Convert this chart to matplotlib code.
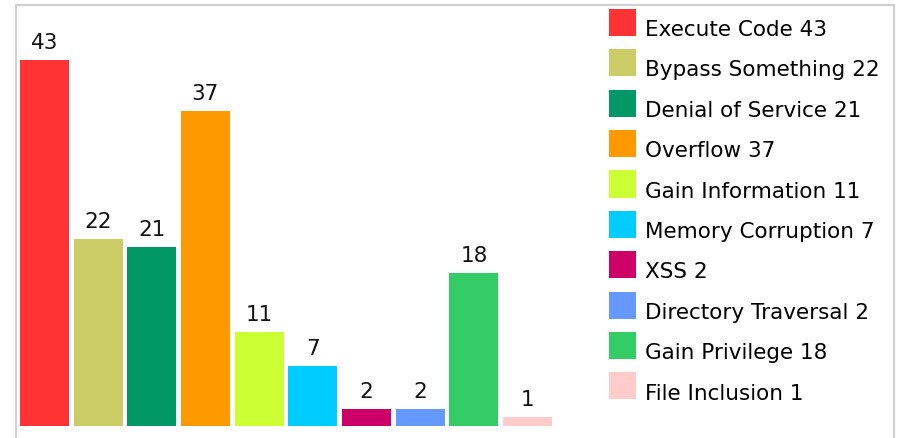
import matplotlib
matplotlib.use("Agg")
import matplotlib.pyplot as plt
from matplotlib.patches import Patch, Rectangle
from matplotlib.legend_handler import HandlerPatch

# Vulnerability counts by category
categories = ["Execute Code", "Bypass Something", "Denial of Service", "Overflow",
              "Gain Information", "Memory Corruption", "XSS", "Directory Traversal",
              "Gain Privilege", "File Inclusion"]
counts = [43, 22, 21, 37, 11, 7, 2, 2, 18, 1]
colors = ["#ff3333", "#cccc66", "#009966", "#ff9900", "#ccff33",
          "#00ccff", "#cc0066", "#6699ff", "#33cc66", "#ffcccc"]

W, H = 906, 439
fig = plt.figure(figsize=(W / 100, H / 100), dpi=100)

# plot area in pixel terms: baseline at y=426.5, 8.5 px per unit
left, right = 17.6, 554.4
base, top = 426.5, 6.0
ax = fig.add_axes([left / W, (H - base) / H, (right - left) / W, (base - top) / H])
x = list(range(len(counts)))
ax.bar(x, counts, width=0.91, color=colors)
ax.set_xlim(-0.5, len(counts) - 0.5)
ax.set_ylim(0, (base - top) / 8.5)
ax.axis("off")

for xi, v in zip(x, counts):
    ax.annotate(str(v), (xi, v), xytext=(0, 8.6), textcoords="offset points",
                ha="center", va="baseline", fontsize=15.5, color="#111111")

# outer frame (open at the bottom)
fig.add_artist(Rectangle((16 / W, -0.1), (894 - 16) / W, 1.1 - 6 / H,
                         transform=fig.transFigure, fill=False,
                         edgecolor="#d0d0d0", linewidth=1.6))


# square swatches, nudged up so the label sits near the swatch bottom
def swatch(legend, orig_handle, xdescent, ydescent, width, height, fontsize):
    return Rectangle((-xdescent, -ydescent + 4.0), width, height)


handles = [Patch(facecolor=c, edgecolor="none") for c in colors]
labels = [f"{c} {v}" for c, v in zip(categories, counts)]
fs = 15.5
fig.legend(handles, labels, loc="upper left",
           bbox_to_anchor=(609 / W, 1 - 15.5 / H), frameon=False,
           fontsize=fs, handlelength=1.256, handleheight=1.555,
           handletextpad=0.4, labelspacing=0.62, borderpad=0, borderaxespad=0,
           handler_map={Patch: HandlerPatch(patch_func=swatch)})

fig.savefig("out.png", dpi=100)
